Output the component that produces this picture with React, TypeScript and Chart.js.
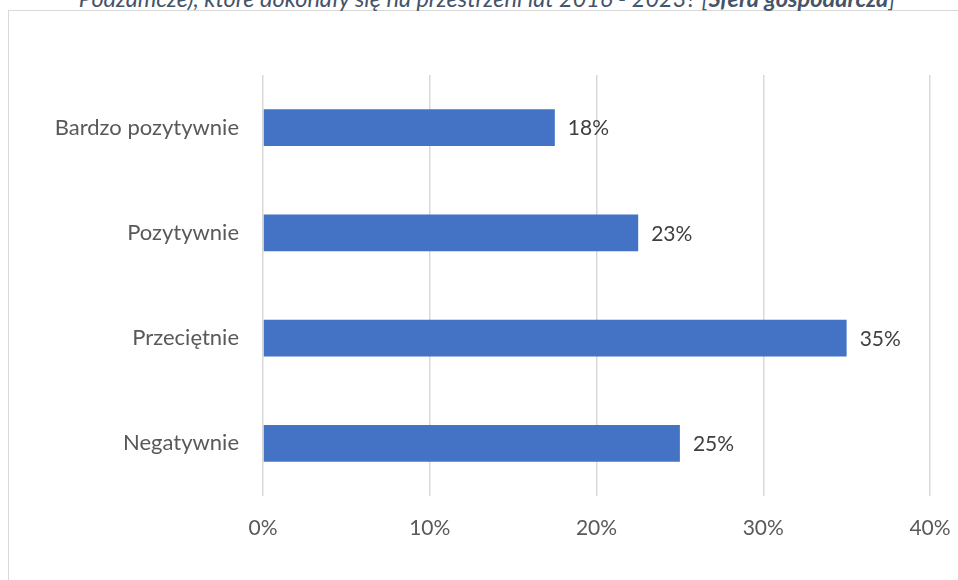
import React, { useEffect, useRef } from "react";
import { Chart, registerables } from "chart.js";

Chart.register(...registerables);

const categories = ["Bardzo pozytywnie", "Pozytywnie", "Przeciętnie", "Negatywnie"];
const values = [17.5, 22.5, 35, 25];
const xTicks = [0, 10, 20, 30, 40];
const titleText = "Podzamcze), które dokonały się na przestrzeni lat 2016 - 2023? [";
const titleBold = "Sfera gospodarcza";
const titleEnd = "]";

const FONT = "Lato, 'Open Sans', sans-serif";

const labelPlugin = {
  id: "barLabels",
  afterDatasetsDraw(chart: any) {
    const ctx = chart.ctx;
    const meta = chart.getDatasetMeta(0);
    ctx.save();
    ctx.font = `21px ${FONT}`;
    ctx.fillStyle = "#404040";
    ctx.textAlign = "left";
    ctx.textBaseline = "middle";
    meta.data.forEach((bar: any, i: number) => {
      ctx.fillText(Math.round(values[i]) + "%", bar.x + 13, bar.y + 1);
    });
    ctx.restore();
  },
};

export default function App() {
  const ref = useRef<HTMLCanvasElement | null>(null);
  useEffect(() => {
    if (!ref.current) return;
    const chart = new Chart(ref.current, {
      type: "bar",
      data: {
        labels: categories,
        datasets: [
          {
            data: values,
            backgroundColor: "#4472C4",
            borderWidth: 0,
            barPercentage: 0.7,
            categoryPercentage: 0.5,
          },
        ],
      },
      options: {
        indexAxis: "y",
        animation: false,
        responsive: false,
        maintainAspectRatio: false,
        layout: { padding: { top: 75, right: 28, left: 0, bottom: 0 } },
        plugins: { legend: { display: false }, tooltip: { enabled: false } },
        scales: {
          x: {
            min: 0,
            max: 40,
            afterBuildTicks(scale: any) {
              scale.ticks = xTicks.map((v) => ({ value: v }));
            },
            afterFit(scale: any) {
              scale.height = 84;
              scale.paddingLeft = 0;
              scale.paddingRight = 0;
            },
            ticks: {
              callback: (v: any) => v + "%",
              font: { family: FONT, size: 21 },
              color: "#595959",
              padding: 20,
            },
            grid: { color: "#d9d9d9", lineWidth: 1.5, drawTicks: false },
            border: { display: false },
          },
          y: {
            afterFit(scale: any) {
              scale.width = 263;
              scale.paddingTop = 0;
              scale.paddingBottom = 0;
            },
            ticks: {
              font: { family: FONT, size: 22 },
              color: "#595959",
              padding: 24,
            },
            grid: { display: false, drawTicks: false },
            border: { display: false },
          },
        },
      },
      plugins: [labelPlugin],
    });
    return () => chart.destroy();
  }, []);

  return (
    <div
      style={{
        position: "fixed",
        left: 0,
        top: 0,
        width: 958,
        height: 580,
        overflow: "hidden",
        background: "#fff",
      }}
    >
      <div
        style={{
          position: "absolute",
          left: 8,
          top: 10,
          width: 1200,
          height: 1200,
          border: "1.5px solid #d9d9d9",
        }}
      />
      <div
        style={{
          position: "absolute",
          left: 0,
          width: 974,
          top: -14,
          textAlign: "center",
          whiteSpace: "nowrap",
          fontFamily: FONT,
          fontStyle: "italic",
          fontSize: 23.5,
          lineHeight: "24px",
          color: "#44546A",
        }}
      >
        {titleText}
        <b>{titleBold}</b>
        {titleEnd}
      </div>
      <canvas
        ref={ref}
        width={958}
        height={580}
        style={{ position: "absolute", left: 0, top: 0, width: 958, height: 580 }}
      />
    </div>
  );
}
